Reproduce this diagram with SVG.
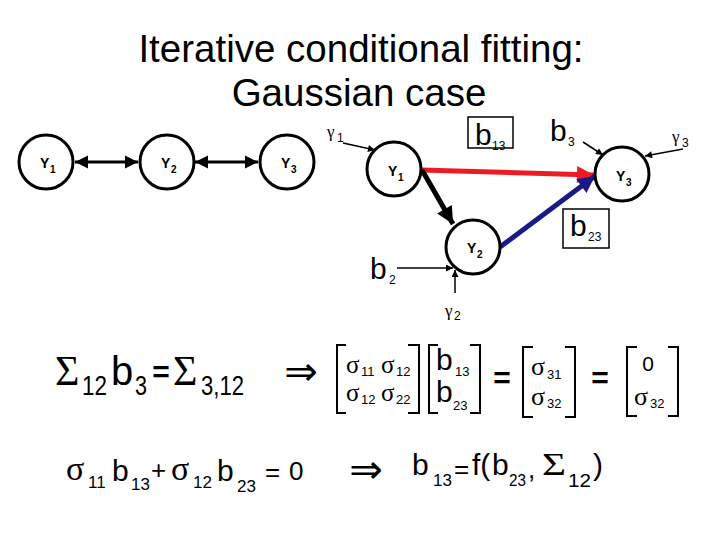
<svg xmlns="http://www.w3.org/2000/svg" width="720" height="540" viewBox="0 0 720 540">
<style>
.bg{fill:#ffffff}
.node circle{fill:#ffffff;stroke:#000;stroke-width:3}
.nl{font-family:"Liberation Sans",Arial,sans-serif;font-weight:bold;font-size:14px;fill:#000}
.ns{font-family:"Liberation Sans",Arial,sans-serif;font-weight:bold;font-size:10px;fill:#000}
.title{font-family:"Liberation Sans",Arial,sans-serif;font-size:38.5px;fill:#000}
.s{font-family:"Liberation Sans",Arial,sans-serif;fill:#000}
.g{font-family:"Liberation Serif","Times New Roman",serif;fill:#000}
.ar{font-family:"DejaVu Sans",sans-serif;fill:#000}
.thin{stroke:#000;stroke-width:1.5;fill:none}
.brk{stroke:#000;stroke-width:2;fill:none}
.box{stroke:#000;stroke-width:1.5;fill:none}
</style>
<defs>
<marker id="hb" viewBox="0 0 10 10" refX="10" refY="5" markerUnits="userSpaceOnUse" markerWidth="13" markerHeight="14" orient="auto-start-reverse"><path d="M0,0L10,5L0,10Z" fill="#000"/></marker>
<marker id="hs" viewBox="0 0 10 10" refX="10" refY="5" markerUnits="userSpaceOnUse" markerWidth="8" markerHeight="7" orient="auto"><path d="M0,0L10,5L0,10Z" fill="#000"/></marker>
<marker id="hr" viewBox="0 0 10 10" refX="10" refY="5" markerUnits="userSpaceOnUse" markerWidth="18" markerHeight="17" orient="auto"><path d="M0,0L10,5L0,10Z" fill="#ec1c24"/></marker>
<marker id="hu" viewBox="0 0 10 10" refX="10" refY="5" markerUnits="userSpaceOnUse" markerWidth="18" markerHeight="17" orient="auto"><path d="M0,0L10,5L0,10Z" fill="#1a1a86"/></marker>
<marker id="hk" viewBox="0 0 10 10" refX="10" refY="5" markerUnits="userSpaceOnUse" markerWidth="18" markerHeight="17" orient="auto"><path d="M0,0L10,5L0,10Z" fill="#000"/></marker>
</defs>
<rect class="bg" x="0" y="0" width="720" height="540"/>

<g id="title">
<text class="title" x="361" y="62" text-anchor="middle">Iterative conditional fitting:</text>
<text class="title" x="359" y="106" text-anchor="middle">Gaussian case</text>
</g>

<g id="connectors">
<line x1="75" y1="162" x2="138" y2="162" stroke="#000" stroke-width="3" marker-start="url(#hb)" marker-end="url(#hb)"/>
<line x1="195" y1="162" x2="258" y2="162" stroke="#000" stroke-width="3" marker-start="url(#hb)" marker-end="url(#hb)"/>
<line x1="421" y1="170" x2="594" y2="175" stroke="#ec1c24" stroke-width="5" marker-end="url(#hr)"/>
<line x1="500" y1="247" x2="595" y2="176" stroke="#1a1a86" stroke-width="5" marker-end="url(#hu)"/>
<line x1="422" y1="170" x2="453" y2="224" stroke="#000" stroke-width="5" marker-end="url(#hk)"/>
<line class="thin" x1="343" y1="143" x2="375" y2="150" marker-end="url(#hs)"/>
<line class="thin" x1="583" y1="142" x2="603" y2="155" marker-end="url(#hs)"/>
<line class="thin" x1="683" y1="149" x2="645" y2="156" marker-end="url(#hs)"/>
<line class="thin" x1="397" y1="268" x2="453" y2="268" marker-end="url(#hs)"/>
<line class="thin" x1="455" y1="293" x2="455" y2="270" marker-end="url(#hs)"/>
</g>

<g id="L1" class="node"><circle cx="46" cy="162" r="27"/><text class="nl" x="40" y="168">Y</text><text class="ns" x="50" y="173">1</text></g>
<g id="L2" class="node"><circle cx="167" cy="162" r="27"/><text class="nl" x="161" y="168">Y</text><text class="ns" x="171" y="173">2</text></g>
<g id="L3" class="node"><circle cx="287" cy="162" r="27"/><text class="nl" x="281" y="168">Y</text><text class="ns" x="291" y="173">3</text></g>

<g id="R1" class="node"><circle cx="394" cy="169" r="27"/><text class="nl" x="388" y="176">Y</text><text class="ns" x="398" y="181">1</text></g>
<g id="R2" class="node"><circle cx="473" cy="247" r="27"/><text class="nl" x="467" y="253">Y</text><text class="ns" x="477" y="258">2</text></g>
<g id="R3" class="node"><circle cx="622" cy="174" r="27"/><text class="nl" x="616" y="181">Y</text><text class="ns" x="626" y="186">3</text></g>

<g id="labels">
<text class="g" x="327" y="137" font-size="17">γ</text><text class="s" x="337" y="142" font-size="12">1</text>
<text class="g" x="672" y="142" font-size="17">γ</text><text class="s" x="682" y="147" font-size="12">3</text>
<text class="g" x="445" y="316" font-size="17">γ</text><text class="s" x="454" y="320" font-size="12">2</text>
<rect class="box" x="468" y="117" width="45" height="31"/>
<text class="s" x="475" y="145" font-size="30">b</text><text class="s" x="492" y="150" font-size="12">13</text>
<rect class="box" x="563" y="209" width="46" height="39"/>
<text class="s" x="570" y="236" font-size="30">b</text><text class="s" x="588" y="241" font-size="12">23</text>
<text class="s" x="550" y="141" font-size="30">b</text><text class="s" x="568" y="146" font-size="12">3</text>
<text class="s" x="370" y="279" font-size="30">b</text><text class="s" x="389" y="284" font-size="12">2</text>
</g>

<g id="eq1">
<text class="g" x="55" y="385" font-size="42">Σ</text>
<text class="s" x="82" y="395" font-size="28" textLength="25" lengthAdjust="spacingAndGlyphs">12</text>
<text class="s" x="111" y="385" font-size="40">b</text>
<text class="s" x="135" y="395" font-size="28" textLength="12" lengthAdjust="spacingAndGlyphs">3</text>
<text class="s" x="161" y="382" font-size="30" font-weight="bold" text-anchor="middle">=</text>
<text class="g" x="173" y="385" font-size="42">Σ</text>
<text class="s" x="201" y="395" font-size="28" textLength="43" lengthAdjust="spacingAndGlyphs">3,12</text>
<text class="ar" x="301" y="385" font-size="40" text-anchor="middle">⇒</text>
</g>

<g id="matrices">
<path class="brk" d="M346,345H337V413H346"/>
<path class="brk" d="M408,345H419V413H408"/>
<text class="g" x="346" y="373" font-size="25">σ</text><text class="s" x="361" y="376" font-size="13">11</text>
<text class="g" x="381" y="373" font-size="25">σ</text><text class="s" x="396" y="376" font-size="13">12</text>
<text class="g" x="346" y="401" font-size="25">σ</text><text class="s" x="361" y="404" font-size="13">12</text>
<text class="g" x="381" y="401" font-size="25">σ</text><text class="s" x="396" y="404" font-size="13">22</text>

<path class="brk" d="M438,345H429V413H438"/>
<path class="brk" d="M470,345H480V413H470"/>
<text class="s" x="436" y="370" font-size="30">b</text><text class="s" x="455" y="376" font-size="13">13</text>
<text class="s" x="436" y="402" font-size="30">b</text><text class="s" x="453" y="410" font-size="13">23</text>

<text class="s" x="502" y="388" font-size="30" font-weight="bold" text-anchor="middle">=</text>

<path class="brk" d="M533,347H523V417H533"/>
<path class="brk" d="M565,347H575V417H565"/>
<text class="g" x="531" y="375" font-size="26">σ</text><text class="s" x="547" y="379" font-size="13">31</text>
<text class="g" x="531" y="405" font-size="26">σ</text><text class="s" x="547" y="408" font-size="13">32</text>

<text class="s" x="600" y="388" font-size="30" font-weight="bold" text-anchor="middle">=</text>

<path class="brk" d="M637,347H627V416H637"/>
<path class="brk" d="M668,347H678V416H668"/>
<text class="s" x="648" y="371" font-size="21" text-anchor="middle">0</text>
<text class="g" x="634" y="405" font-size="26">σ</text><text class="s" x="650" y="408" font-size="13">32</text>
</g>

<g id="eq2">
<text class="g" x="66" y="480" font-size="34">σ</text>
<text class="s" x="88" y="488" font-size="17">11</text>
<text class="s" x="112" y="481" font-size="30">b</text>
<text class="s" x="131" y="490" font-size="17">13</text>
<text class="s" x="151" y="479" font-size="26">+</text>
<text class="g" x="171" y="480" font-size="34">σ</text>
<text class="s" x="193" y="488" font-size="17">12</text>
<text class="s" x="217" y="481" font-size="30">b</text>
<text class="s" x="237" y="492" font-size="17">23</text>
<text class="s" x="265" y="481" font-size="26">=</text>
<text class="s" x="289" y="480" font-size="26">0</text>
</g>

<g id="eq3">
<text class="ar" x="366" y="483" font-size="40" text-anchor="middle">⇒</text>
<text class="s" x="412" y="475" font-size="30">b</text>
<text class="s" x="433" y="486" font-size="17">13</text>
<text class="s" x="454" y="478" font-size="26">=</text>
<text class="s" x="472" y="475" font-size="30">f(</text>
<text class="s" x="492" y="475" font-size="30">b</text>
<text class="s" x="509" y="486" font-size="17" textLength="17" lengthAdjust="spacingAndGlyphs">23</text>
<text class="s" x="528" y="478" font-size="26">,</text>
<text class="g" x="542" y="475" font-size="32" textLength="24" lengthAdjust="spacingAndGlyphs">Σ</text>
<text class="s" x="568" y="487" font-size="19" textLength="23" lengthAdjust="spacingAndGlyphs">12</text>
<text class="s" x="593" y="475" font-size="30">)</text>
</g>
</svg>
